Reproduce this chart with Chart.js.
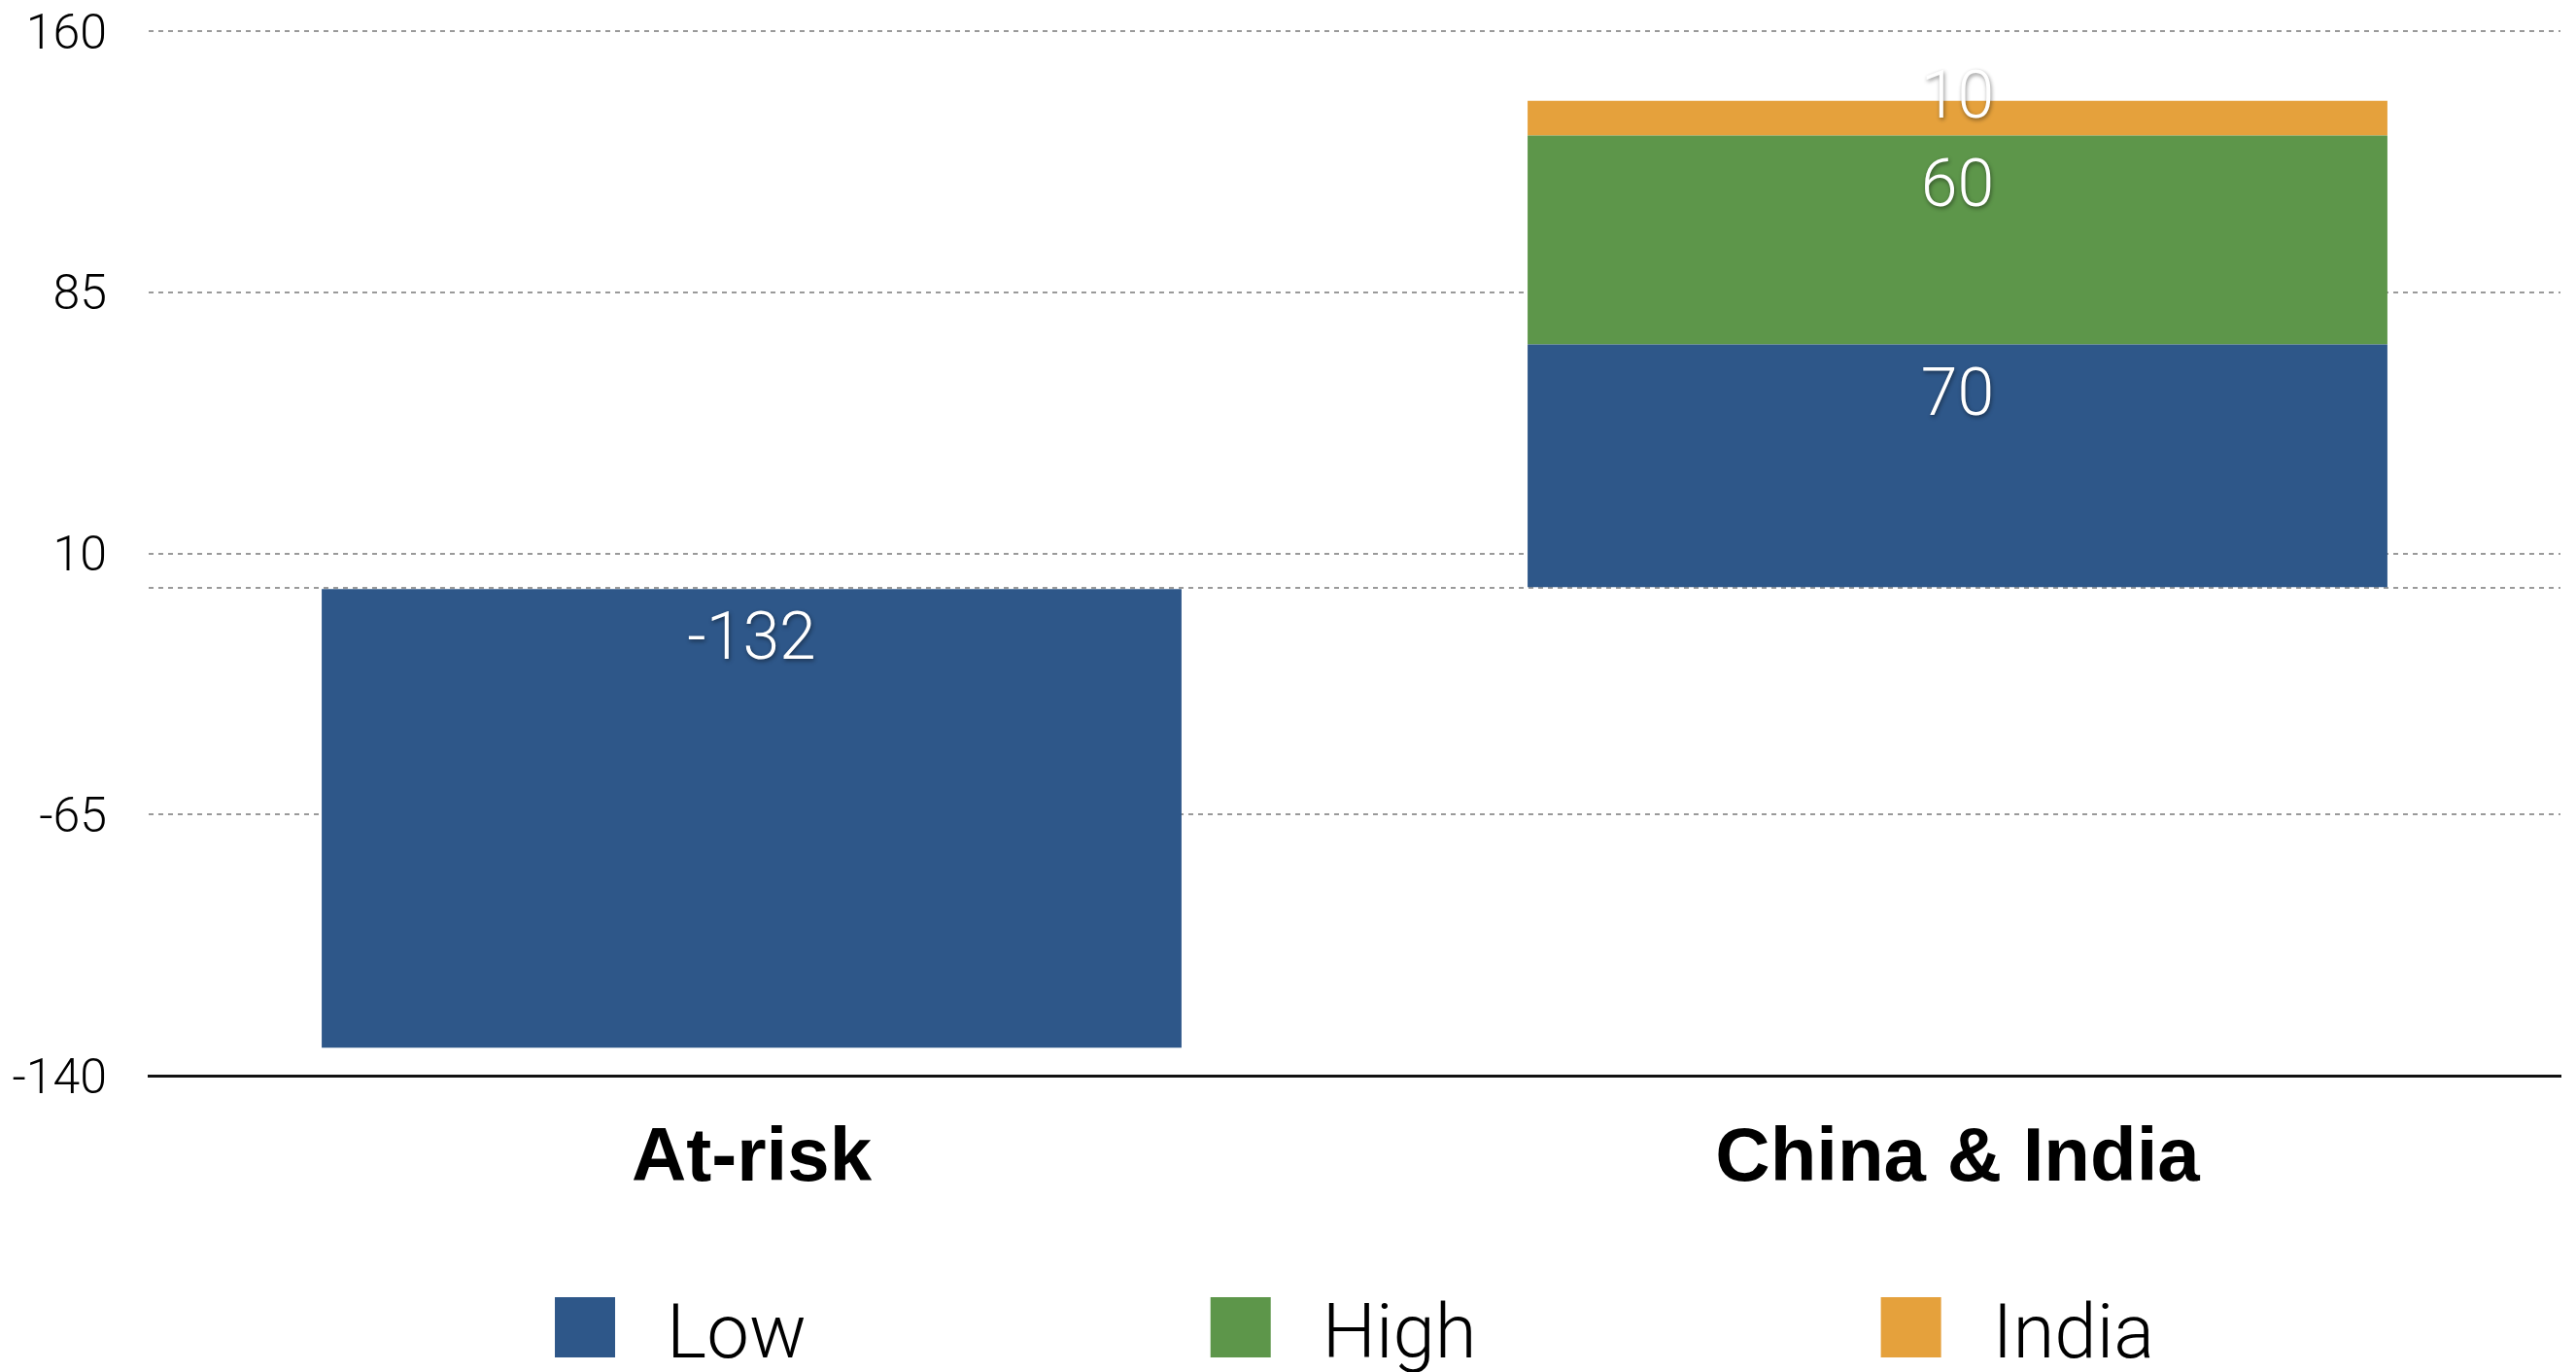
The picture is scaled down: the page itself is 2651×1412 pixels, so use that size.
<!DOCTYPE html>
<html>
<head>
<meta charset="utf-8">
<script src="https://cdn.jsdelivr.net/npm/chart.js@4/dist/chart.umd.min.js"></script>
<style>
  html, body { margin: 0; padding: 0; background: #fff; }
  #wrap { width: 2651px; height: 1412px; position: relative; }
</style>
</head>
<body>
<div id="wrap"><canvas id="myChart"></canvas></div>
<script>
(function () {
  "use strict";

  var categories = ["At-risk", "China & India"];
  var lowValues = [-132, 70];
  var highValues = [null, 60];
  var indiaValues = [null, 10];
  var yTicks = [160, 85, 10, -65, -140];

  var lightFont = 'Roboto, "Liberation Sans", sans-serif';

  // white value labels sitting just under the top edge of each segment
  var valueLabels = {
    id: "valueLabels",
    afterDatasetsDraw: function (chart) {
      var ctx = chart.ctx;
      ctx.save();
      ctx.font = "300 68px " + lightFont;
      ctx.fillStyle = "#fff";
      ctx.textAlign = "center";
      ctx.textBaseline = "middle";
      ctx.shadowColor = "rgba(0,0,0,0.45)";
      ctx.shadowBlur = 4;
      ctx.shadowOffsetX = 1;
      ctx.shadowOffsetY = 2;
      chart.data.datasets.forEach(function (ds, i) {
        var meta = chart.getDatasetMeta(i);
        meta.data.forEach(function (bar, j) {
          var v = ds.data[j];
          if (v === null || v === undefined) return;
          var top = Math.min(bar.y, bar.base);
          var h = Math.abs(bar.base - bar.y);
          // thin segments get the label nudged over their top edge
          var cy = h > 96 ? top + 55 : top;
          ctx.fillText(String(v), bar.x, cy);
        });
      });
      ctx.restore();
    }
  };

  // legend row under the category labels, centred on the plot
  var bottomLegend = {
    id: "bottomLegend",
    afterDraw: function (chart) {
      var ctx = chart.ctx;
      var area = chart.chartArea;
      var box = 62, textGap = 53, gap = 416;
      ctx.save();
      ctx.font = "300 78px " + lightFont;
      var items = chart.data.datasets.map(function (ds) {
        return { text: ds.label, color: ds.backgroundColor,
                 w: box + textGap + ctx.measureText(ds.label).width };
      });
      var total = gap * (items.length - 1);
      items.forEach(function (it) { total += it.w; });
      var x = (area.left + area.right) / 2 - total / 2;
      var boxTop = 1335;
      items.forEach(function (it) {
        ctx.fillStyle = it.color;
        ctx.fillRect(x, boxTop, box, box);
        ctx.fillStyle = "#000";
        ctx.textAlign = "left";
        ctx.textBaseline = "alphabetic";
        ctx.fillText(it.text, x + box + textGap, boxTop + box);
        x += it.w + gap;
      });
      ctx.restore();
    }
  };

  var ctx = document.getElementById("myChart").getContext("2d");
  var myChart = new Chart(ctx, {
    type: "bar",
    data: {
      labels: categories,
      datasets: [
        { label: "Low", data: lowValues, backgroundColor: "#2E5789" },
        { label: "High", data: highValues, backgroundColor: "#5D964A" },
        { label: "India", data: indiaValues, backgroundColor: "#E5A13C" }
      ]
    },
    options: {
      responsive: true,
      maintainAspectRatio: false,
      animation: false,
      layout: { padding: { top: 0, right: 16, bottom: 171, left: 0 } },
      datasets: {
        bar: { categoryPercentage: 1, barPercentage: 0.713, borderWidth: 0 }
      },
      plugins: {
        legend: { display: false },
        tooltip: { enabled: false }
      },
      scales: {
        x: {
          stacked: true,
          grid: { display: false, drawTicks: false },
          border: { display: true, color: "#111", width: 3 },
          ticks: {
            color: "#000",
            padding: 40,
            font: { family: '"Liberation Sans", Arial, sans-serif', size: 78, weight: "bold" }
          },
          afterFit: function (scale) { scale.height = 134; }
        },
        y: {
          stacked: true,
          min: yTicks[yTicks.length - 1],
          max: yTicks[0],
          afterBuildTicks: function (scale) {
            var t = yTicks.map(function (v) { return { value: v }; });
            t.push({ value: 0 });
            t.sort(function (a, b) { return a.value - b.value; });
            scale.ticks = t;
          },
          afterFit: function (scale) {
            scale.width = 153;
            scale.paddingTop = 32;
          },
          grid: {
            drawTicks: false,
            lineWidth: 2,
            color: function (c) {
              return c.tick && c.tick.value === yTicks[yTicks.length - 1] ? "rgba(0,0,0,0)" : "#9a9a9a";
            }
          },
          border: { display: false, dash: [5, 5] },
          ticks: {
            color: "#000",
            padding: 43,
            labelOffset: 5,
            font: { family: lightFont, size: 50, weight: "300" },
            callback: function (v) { return v === 0 ? "" : String(v); }
          }
        }
      }
    },
    plugins: [valueLabels, bottomLegend]
  });
})();
</script>
</body>
</html>
